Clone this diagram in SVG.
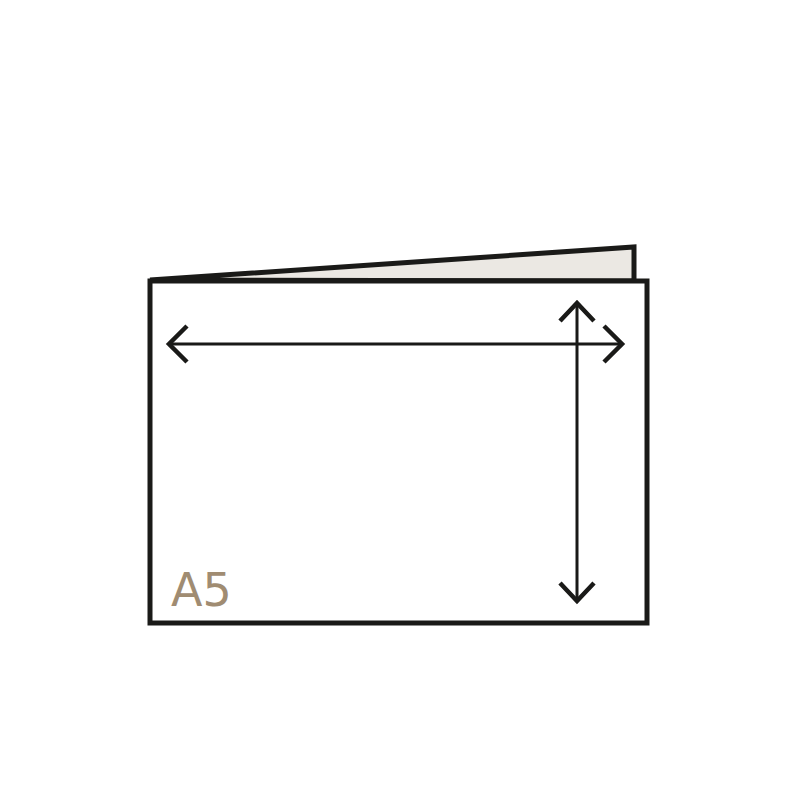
<svg xmlns="http://www.w3.org/2000/svg" width="800" height="800" viewBox="0 0 800 800">
<style>
.edge{fill:none;stroke:#1a1a18;stroke-linecap:butt}
.shaft{stroke-width:3}
.head{stroke-width:4.5;stroke-linejoin:miter}
.label{font-family:"DejaVu Sans",sans-serif;font-size:46px;fill:#a08c72}
</style>
<rect width="800" height="800" fill="#ffffff"/>
<g id="back-flap">
<polygon points="150,280 634,247 634,281" fill="#ebe8e3" stroke="#1a1a18" stroke-width="5" stroke-linejoin="miter"/>
</g>
<g id="card">
<rect x="150" y="281" width="497" height="342" fill="#ffffff" stroke="#1a1a18" stroke-width="5"/>
<text class="label" x="171" y="606">A5</text>
</g>
<g id="connectors">
<line class="edge shaft" x1="169" y1="344" x2="622" y2="344"/>
<polyline class="edge head" points="187,326 169,344 187,362"/>
<polyline class="edge head" points="604,326 622,344 604,362"/>
<line class="edge shaft" x1="577" y1="303" x2="577" y2="601"/>
<polyline class="edge head" points="560,321 577,303 594,321"/>
<polyline class="edge head" points="560,583 577,601 594,583"/>
</g>
</svg>
